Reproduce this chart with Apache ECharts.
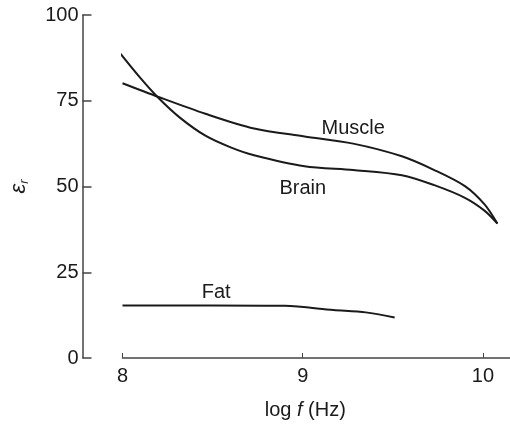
<!DOCTYPE html>
<html>
<head>
<meta charset="utf-8">
<script src="https://cdn.jsdelivr.net/npm/echarts@6/dist/echarts.min.js"></script>
<style>
  html, body { margin: 0; padding: 0; background: #fff; }
  #chart { width: 510px; height: 425px; }
</style>
</head>
<body>
<div id="chart"></div>
<script>
// values: [log f, eps_r]
const brain = [
  [7.98, 89.3], [8.1, 81.6], [8.2, 75.8], [8.32, 70.0], [8.46, 64.8],
  [8.6, 61.4], [8.73, 59.1], [9.01, 55.9], [9.28, 54.8], [9.55, 53.3],
  [9.73, 50.4], [9.9, 46.7], [10.01, 42.9], [10.08, 39.2]
]
const muscle = [
  [8.0, 80.1], [8.2, 76.1], [8.46, 71.2], [8.73, 66.9], [9.01, 64.6],
  [9.28, 62.5], [9.55, 58.8], [9.73, 54.8], [9.9, 50.1], [10.01, 44.7],
  [10.08, 39.2]
]
const fat = [
  [8.0, 15.3], [8.5, 15.3], [8.9, 15.2], [9.17, 14.0], [9.35, 13.3], [9.51, 11.8]
]
const xTicks = [8, 9, 10]
// where the curve names sit, in data units
const labelSpots = {
  Muscle: [9.28, 67.0],
  Brain: [9.0, 49.4],
  Fat: [8.52, 19.0]
}

const font = '"Liberation Sans", Arial, sans-serif'
const ink = '#1a1a1a'

const chart = echarts.init(document.getElementById('chart'))

const makeSeries = (name, data) => ({
  name,
  type: 'line',
  data,
  smooth: 0.3,
  showSymbol: false,
  lineStyle: { color: ink, width: 2 },
  markPoint: {
    symbol: 'circle',
    symbolSize: 1,
    itemStyle: { color: 'rgba(0,0,0,0)' },
    data: [{ coord: labelSpots[name], value: name }],
    label: {
      show: true,
      position: 'inside',
      formatter: name,
      color: ink,
      fontFamily: font,
      fontSize: 20
    }
  }
})

chart.setOption({
  animation: false,
  grid: { left: 116, right: 0, top: 15, bottom: 63 },
  xAxis: {
    type: 'value',
    min: 8,
    max: 10.15,
    interval: 1,
    name: 'log {i|f} (Hz)',
    nameLocation: 'middle',
    nameGap: 42,
    nameTextStyle: {
      color: ink,
      fontFamily: font,
      fontSize: 20,
      padding: [0, 22, 0, 0],
      rich: { i: { fontStyle: 'italic', fontFamily: font, fontSize: 20, color: ink } }
    },
    axisLine: { lineStyle: { color: '#444', width: 1.5 } },
    axisTick: { inside: true, length: 5, customValues: xTicks, lineStyle: { color: '#444' } },
    axisLabel: { customValues: xTicks, color: ink, fontFamily: font, fontSize: 20, margin: 8 },
    splitLine: { show: false }
  },
  yAxis: {
    type: 'value',
    min: 0,
    max: 100,
    interval: 25,
    offset: 40,
    name: '{e|ε}{s|r}',
    nameLocation: 'middle',
    nameGap: 52,
    nameRotate: 90,
    nameTextStyle: {
      rich: {
        e: { fontFamily: font, fontSize: 22, color: ink, fontStyle: 'italic' },
        s: { fontFamily: font, fontSize: 13, color: ink, fontStyle: 'italic', padding: [10, 0, 0, 0] }
      }
    },
    axisLine: { show: true, lineStyle: { color: '#444', width: 1.5 } },
    axisTick: { show: true, inside: true, length: 9, lineStyle: { color: '#444', width: 1.5 } },
    axisLabel: { color: ink, fontFamily: font, fontSize: 20, margin: 4 },
    splitLine: { show: false }
  },
  series: [
    makeSeries('Brain', brain),
    makeSeries('Muscle', muscle),
    makeSeries('Fat', fat)
  ]
})
</script>
</body>
</html>
